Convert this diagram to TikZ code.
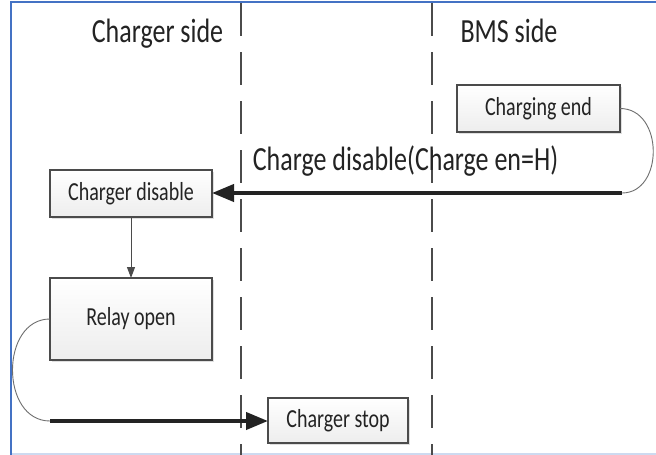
\documentclass[tikz,border=0pt]{standalone}
\usepackage{graphicx}
\usepackage{fontspec}
\setmainfont{Carlito}
\usetikzlibrary{arrows.meta,shadows}
\definecolor{bordblue}{RGB}{68,114,196}
\definecolor{paleblue}{RGB}{205,218,240}
\definecolor{ink}{RGB}{35,35,35}
\definecolor{linegray}{RGB}{75,75,75}
\definecolor{curvegray}{RGB}{110,110,110}
\newcommand\tallt[1]{\scalebox{1}[1.3]{#1}}
\begin{document}
\begin{tikzpicture}[x=1pt,y=-1pt,
  box/.style={draw=linegray, line width=1.1pt, rectangle, inner sep=0pt, outer sep=0pt,
    top color=white, bottom color=gray!14,
    drop shadow={shadow xshift=1.5pt,shadow yshift=-1.5pt,opacity=0.25},
    font=\fontsize{20}{24}\selectfont, text=ink},
  head/.style={anchor=base, inner sep=0pt, font=\fontsize{26}{30}\selectfont, text=ink},
  lane/.style={draw=linegray, line width=1.2pt, dash pattern=on 33pt off 16pt},
  thinline/.style={draw=curvegray, line width=0.9pt},
  bigarrow/.style={draw=ink, line width=4pt, -{Triangle[length=22pt,width=17pt]}},
  smallarrow/.style={draw=linegray, line width=1pt, -{Triangle[length=11pt,width=8pt]}},
]
\useasboundingbox (0,0) rectangle (656,455);
\fill[white] (0,0) rectangle (656,455);
% frame
\draw[bordblue, line width=2pt] (11,2) -- (656,2);
\draw[bordblue, line width=2.2pt] (11,1) -- (11,455);
\draw[paleblue, line width=1.2pt] (12,454) -- (656,454);
% lanes
\coordinate (l1t) at (241,3); \coordinate (l1b) at (241,455);
\coordinate (l2t) at (432,3); \coordinate (l2b) at (432,455);
\draw[lane] (l1t) -- (l1b);
\draw[lane] (l2t) -- (l2b);
% headers
\node[head] (hc) at (157.5,42) {\tallt{Charger side}};
\node[head] (hb) at (509,42) {\tallt{BMS side}};
% boxes
\node[box, minimum width=163pt, minimum height=47pt] (ce) at (538.5,108.5) {\tallt{Charging end}};
\node[box, minimum width=162pt, minimum height=47pt] (cd) at (131,193.5) {\tallt{Charger disable}};
\node[box, minimum width=162pt, minimum height=82pt] (ro) at (131,319) {\tallt{Relay open}};
\node[box, minimum width=140pt, minimum height=45pt] (cs) at (338,420.5) {\tallt{Charger stop}};
% label
\node[head] (lab) at (405.5,170) {\tallt{Charge disable(Charge en=H)}};
% connectors
\coordinate (k1) at (622,193);
\draw[thinline] (ce.east) .. controls (664,108.5) and (664,193) .. (k1);
\draw[bigarrow] (k1) -- (cd.east |- k1);
\draw[smallarrow] (cd.south) -- (ro.north);
\coordinate (k2) at (50,421);
\draw[thinline] (ro.west) .. controls (0,319) and (0,421) .. (k2);
\draw[bigarrow] (k2) -- (cs.west |- k2);
\end{tikzpicture}
\end{document}
